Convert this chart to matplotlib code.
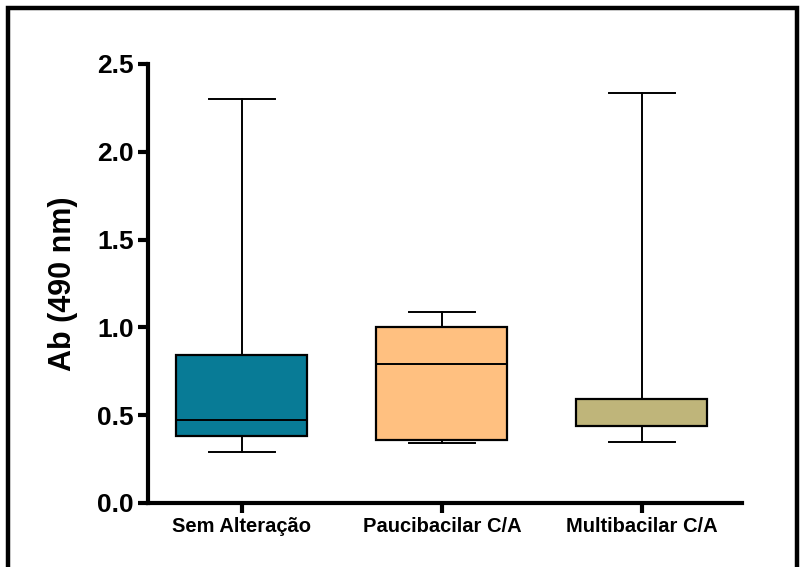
import matplotlib.pyplot as plt
from matplotlib.patches import Rectangle

plt.rcParams['font.family'] = ['Liberation Sans', 'DejaVu Sans']
plt.rcParams['font.weight'] = 'bold'

# box plot summary values
groups = ['Sem Alteração', 'Paucibacilar C/A', 'Multibacilar C/A']
whis_low = [0.29, 0.34, 0.35]
q1 = [0.38, 0.36, 0.44]
median = [0.47, 0.79, 0.44]
q3 = [0.84, 1.00, 0.59]
whis_high = [2.30, 1.085, 2.335]
colors = ['#087B96', '#FFC080', '#BFB57A']

fig = plt.figure(figsize=(8.03, 5.67), dpi=100)
ax = fig.add_axes([148/803, 1 - 503/567, (742-148)/803, (503-64)/567])

stats = []
for i in range(len(groups)):
    stats.append({'whislo': whis_low[i], 'q1': q1[i], 'med': median[i],
                  'q3': q3[i], 'whishi': whis_high[i], 'fliers': []})

bp = ax.bxp(stats, positions=[0, 1, 2], widths=0.655, capwidths=0.33,
            patch_artist=True, showfliers=False,
            boxprops=dict(linewidth=1.6, edgecolor='black'),
            whiskerprops=dict(linewidth=1.4, color='black'),
            capprops=dict(linewidth=1.4, color='black'),
            medianprops=dict(linewidth=1.4, color='black'))
for patch, c in zip(bp['boxes'], colors):
    patch.set_facecolor(c)

ax.set_xlim(-0.47, 2.5)
ax.set_ylim(0, 2.5)
ax.set_yticks([0.0, 0.5, 1.0, 1.5, 2.0, 2.5])
ax.set_yticklabels(['0.0', '0.5', '1.0', '1.5', '2.0', '2.5'], fontsize=19, fontweight='bold')
ax.set_xticks([0, 1, 2])
ax.set_xticklabels(groups, fontsize=14.5, fontweight='bold')
ax.set_ylabel('Ab (490 nm)', fontsize=22, fontweight='bold', labelpad=14)

for s in ['top', 'right']:
    ax.spines[s].set_visible(False)
for s in ['left', 'bottom']:
    ax.spines[s].set_linewidth(3)
ax.tick_params(axis='both', width=3, length=7, direction='out', pad=3)

# thick frame around the figure
fig.patches.append(Rectangle((8/803, -0.05), (797-8)/803, 1.05 - 8/567,
                             transform=fig.transFigure, fill=False,
                             edgecolor='black', linewidth=3.2))

fig.savefig('out.png', dpi=100)
